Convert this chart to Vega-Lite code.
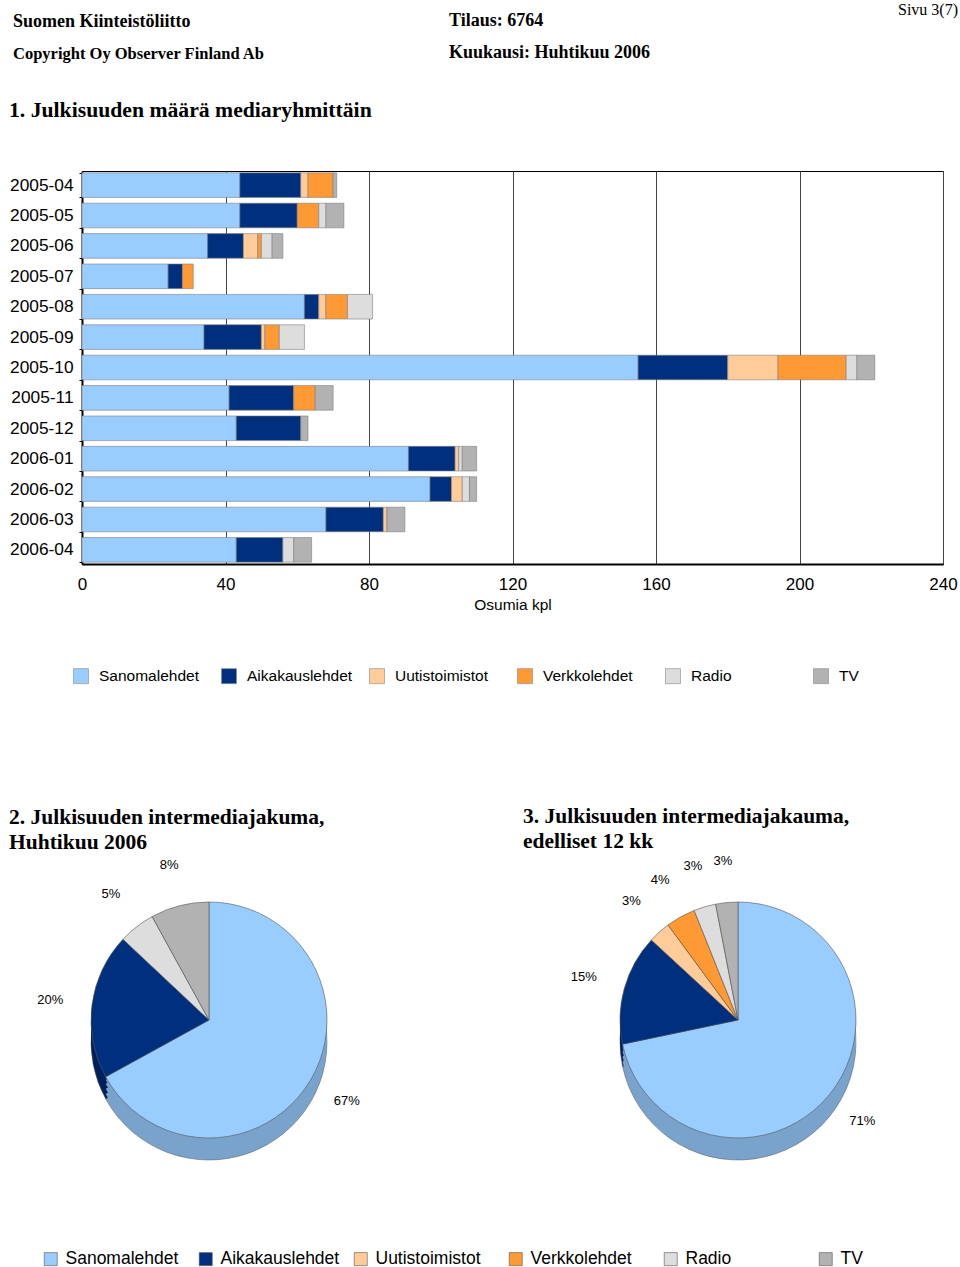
{
  "$schema": "https://vega.github.io/schema/vega-lite/v6.json",
  "background": "white",
  "padding": {"left": 0, "top": 2, "right": 0, "bottom": 0},
  "autosize": {"type": "pad"},
  "config": {
    "font": "Liberation Sans",
    "view": {"stroke": null},
    "title": {"font": "Liberation Serif", "fontWeight": "bold", "color": "black", "anchor": "start", "frame": "group", "subtitleFont": "Liberation Serif", "subtitleFontWeight": "bold", "subtitleColor": "black"},
    "concat": {"spacing": 0}
  },
  "datasets": {
    "media": [
      {"media": "Sanomalehdet", "o": 1},
      {"media": "Aikakauslehdet", "o": 2},
      {"media": "Uutistoimistot", "o": 3},
      {"media": "Verkkolehdet", "o": 4},
      {"media": "Radio", "o": 5},
      {"media": "TV", "o": 6}
    ],
    "bars": [
      {"month": "2005-04", "media": "Sanomalehdet", "n": 44},
      {"month": "2005-04", "media": "Aikakauslehdet", "n": 17},
      {"month": "2005-04", "media": "Uutistoimistot", "n": 2},
      {"month": "2005-04", "media": "Verkkolehdet", "n": 7},
      {"month": "2005-04", "media": "TV", "n": 1},
      {"month": "2005-05", "media": "Sanomalehdet", "n": 44},
      {"month": "2005-05", "media": "Aikakauslehdet", "n": 16},
      {"month": "2005-05", "media": "Verkkolehdet", "n": 6},
      {"month": "2005-05", "media": "Radio", "n": 2},
      {"month": "2005-05", "media": "TV", "n": 5},
      {"month": "2005-06", "media": "Sanomalehdet", "n": 35},
      {"month": "2005-06", "media": "Aikakauslehdet", "n": 10},
      {"month": "2005-06", "media": "Uutistoimistot", "n": 4},
      {"month": "2005-06", "media": "Verkkolehdet", "n": 1},
      {"month": "2005-06", "media": "Radio", "n": 3},
      {"month": "2005-06", "media": "TV", "n": 3},
      {"month": "2005-07", "media": "Sanomalehdet", "n": 24},
      {"month": "2005-07", "media": "Aikakauslehdet", "n": 4},
      {"month": "2005-07", "media": "Verkkolehdet", "n": 3},
      {"month": "2005-08", "media": "Sanomalehdet", "n": 62},
      {"month": "2005-08", "media": "Aikakauslehdet", "n": 4},
      {"month": "2005-08", "media": "Uutistoimistot", "n": 2},
      {"month": "2005-08", "media": "Verkkolehdet", "n": 6},
      {"month": "2005-08", "media": "Radio", "n": 7},
      {"month": "2005-09", "media": "Sanomalehdet", "n": 34},
      {"month": "2005-09", "media": "Aikakauslehdet", "n": 16},
      {"month": "2005-09", "media": "Uutistoimistot", "n": 1},
      {"month": "2005-09", "media": "Verkkolehdet", "n": 4},
      {"month": "2005-09", "media": "Radio", "n": 7},
      {"month": "2005-10", "media": "Sanomalehdet", "n": 155},
      {"month": "2005-10", "media": "Aikakauslehdet", "n": 25},
      {"month": "2005-10", "media": "Uutistoimistot", "n": 14},
      {"month": "2005-10", "media": "Verkkolehdet", "n": 19},
      {"month": "2005-10", "media": "Radio", "n": 3},
      {"month": "2005-10", "media": "TV", "n": 5},
      {"month": "2005-11", "media": "Sanomalehdet", "n": 41},
      {"month": "2005-11", "media": "Aikakauslehdet", "n": 18},
      {"month": "2005-11", "media": "Verkkolehdet", "n": 6},
      {"month": "2005-11", "media": "TV", "n": 5},
      {"month": "2005-12", "media": "Sanomalehdet", "n": 43},
      {"month": "2005-12", "media": "Aikakauslehdet", "n": 18},
      {"month": "2005-12", "media": "TV", "n": 2},
      {"month": "2006-01", "media": "Sanomalehdet", "n": 91},
      {"month": "2006-01", "media": "Aikakauslehdet", "n": 13},
      {"month": "2006-01", "media": "Uutistoimistot", "n": 1},
      {"month": "2006-01", "media": "Radio", "n": 1},
      {"month": "2006-01", "media": "TV", "n": 4},
      {"month": "2006-02", "media": "Sanomalehdet", "n": 97},
      {"month": "2006-02", "media": "Aikakauslehdet", "n": 6},
      {"month": "2006-02", "media": "Uutistoimistot", "n": 3},
      {"month": "2006-02", "media": "Radio", "n": 2},
      {"month": "2006-02", "media": "TV", "n": 2},
      {"month": "2006-03", "media": "Sanomalehdet", "n": 68},
      {"month": "2006-03", "media": "Aikakauslehdet", "n": 16},
      {"month": "2006-03", "media": "Uutistoimistot", "n": 1},
      {"month": "2006-03", "media": "TV", "n": 5},
      {"month": "2006-04", "media": "Sanomalehdet", "n": 43},
      {"month": "2006-04", "media": "Aikakauslehdet", "n": 13},
      {"month": "2006-04", "media": "Radio", "n": 3},
      {"month": "2006-04", "media": "TV", "n": 5}
    ],
    "shares": [
      {"pie": 1, "media": "Sanomalehdet", "share": 0.67},
      {"pie": 1, "media": "Aikakauslehdet", "share": 0.20},
      {"pie": 1, "media": "Radio", "share": 0.05},
      {"pie": 1, "media": "TV", "share": 0.08},
      {"pie": 2, "media": "Sanomalehdet", "share": 0.71},
      {"pie": 2, "media": "Aikakauslehdet", "share": 0.15},
      {"pie": 2, "media": "Uutistoimistot", "share": 0.03},
      {"pie": 2, "media": "Verkkolehdet", "share": 0.04},
      {"pie": 2, "media": "Radio", "share": 0.03},
      {"pie": 2, "media": "TV", "share": 0.03}
    ]
  },
  "spacing": 32,
  "vconcat": [
    {
      "spacing": 0,
      "hconcat": [
        {
          "width": 367, "height": 1,
          "data": {"values": []},
          "mark": "point",
          "title": {"text": "Suomen Kiinteistöliitto", "subtitle": "Copyright Oy Observer Finland Ab", "fontSize": 18, "subtitleFontSize": 16.5, "subtitlePadding": 15, "dx": -69, "offset": 4}
        },
        {
          "width": 430, "height": 1,
          "data": {"values": []},
          "mark": "point",
          "title": {"text": "Tilaus: 6764", "subtitle": "Kuukausi: Huhtikuu 2006", "fontSize": 18, "subtitleFontSize": 18, "subtitlePadding": 14, "dx": 0, "offset": 4}
        },
        {
          "width": 79, "height": 1,
          "data": {"values": []},
          "mark": "point",
          "title": {"text": "Sivu 3(7)", "fontWeight": "normal", "fontSize": 16, "anchor": "end", "dx": 0, "offset": 48}
        }
      ]
    },
    {
      "spacing": 120,
      "resolve": {"scale": {"color": "independent"}, "legend": {"color": "independent"}},
      "vconcat": [
        {
          "width": 861, "height": 393,
          "view": {"stroke": "black", "strokeWidth": 1},
          "title": {"text": "1. Julkisuuden määrä mediaryhmittäin", "fontSize": 21.7, "anchor": "start", "dx": -73, "offset": 40},
          "data": {"name": "bars"},
          "transform": [{"lookup": "media", "from": {"data": {"name": "media"}, "key": "media", "fields": ["o"]}}],
          "mark": {"type": "bar", "stroke": "#7f7f7f", "strokeWidth": 0.6},
          "encoding": {
            "y": {"field": "month", "type": "nominal", "sort": "ascending",
              "scale": {"paddingInner": 0.19, "paddingOuter": 0.06},
              "axis": {"title": null, "labelFontSize": 17.3, "labelColor": "black", "labelPadding": 6, "tickSize": 3, "tickBand": "extent", "tickColor": "black", "domainColor": "black", "domainWidth": 2, "minExtent": 81, "maxExtent": 81}},
            "x": {"field": "n", "type": "quantitative",
              "scale": {"domain": [0, 240], "nice": false},
              "axis": {"values": [0, 40, 80, 120, 160, 200, 240], "title": "Osumia kpl", "titleFontSize": 15.5, "titleFontWeight": "normal", "titleColor": "black", "titlePadding": 5, "labelFontSize": 17, "labelColor": "black", "labelPadding": 12, "ticks": false, "domainColor": "black", "domainWidth": 2, "grid": true, "gridColor": "#444444", "gridWidth": 1, "labelFlush": false}},
            "color": {"field": "media", "type": "nominal",
              "scale": {"domain": ["Sanomalehdet", "Aikakauslehdet", "Uutistoimistot", "Verkkolehdet", "Radio", "TV"], "range": ["#99CCFF", "#00307D", "#FFCC99", "#FF9933", "#DDDDDD", "#B2B2B2"]},
              "legend": {"title": null, "orient": "none", "legendX": -9, "legendY": 497, "direction": "horizontal", "columns": 6, "gridAlign": "all", "columnPadding": 15, "symbolType": "square", "symbolSize": 225, "symbolStrokeColor": "#888888", "symbolStrokeWidth": 0.6, "labelFontSize": 15.5, "labelColor": "black", "labelOffset": 10, "labelLimit": 200}},
            "order": {"field": "o", "type": "quantitative"}
          }
        },
        {
          "spacing": 163,
          "hconcat": [
            {
              "width": 254, "height": 300,
              "title": {"text": ["2. Julkisuuden intermediajakuma,", "Huhtikuu 2006"], "fontSize": 21.5, "lineHeight": 25, "dx": -73, "offset": 6},
              "data": {"name": "shares"},
              "transform": [{"filter": "datum.pie == 1"}, {"lookup": "media", "from": {"data": {"name": "media"}, "key": "media", "fields": ["o"]}}],
              "encoding": {
                "theta": {"field": "share", "type": "quantitative", "stack": true},
                "order": {"field": "o", "type": "quantitative"}
              },
              "layer": [
                {"mark": {"type": "arc", "radius": 118, "yOffset": 22, "stroke": "#555555", "strokeWidth": 0.5},
                 "encoding": {"fill": {"field": "media", "type": "nominal", "scale": {"domain": ["Sanomalehdet", "Aikakauslehdet", "Uutistoimistot", "Verkkolehdet", "Radio", "TV"], "range": ["#7AA3CC", "#00205C", "#CCA37A", "#CC7A29", "#B0B0B0", "#8E8E8E"]}, "legend": null}}},
                {"mark": {"type": "arc", "radius": 118, "yOffset": 17},
                 "encoding": {"fill": {"field": "media", "type": "nominal", "legend": null}}},
                {"mark": {"type": "arc", "radius": 118, "yOffset": 12},
                 "encoding": {"fill": {"field": "media", "type": "nominal", "legend": null}}},
                {"mark": {"type": "arc", "radius": 118, "yOffset": 7},
                 "encoding": {"fill": {"field": "media", "type": "nominal", "legend": null}}},
                {"mark": {"type": "arc", "radius": 118, "yOffset": 3},
                 "encoding": {"fill": {"field": "media", "type": "nominal", "legend": null}}},
                {"mark": {"type": "arc", "radius": 118, "stroke": "#555555", "strokeWidth": 0.6},
                 "encoding": {"color": {"field": "media", "type": "nominal",
                   "scale": {"domain": ["Sanomalehdet", "Aikakauslehdet", "Uutistoimistot", "Verkkolehdet", "Radio", "TV"], "range": ["#99CCFF", "#00307D", "#FFCC99", "#FF9933", "#DDDDDD", "#B2B2B2"]},
                   "legend": {"title": null, "orient": "none", "legendX": -40, "legendY": 380, "direction": "horizontal", "columns": 6, "gridAlign": "all", "columnPadding": 12, "symbolType": "square", "symbolSize": 170, "symbolStrokeColor": "#888888", "symbolStrokeWidth": 0.6, "labelFontSize": 17.5, "labelColor": "black", "labelOffset": 6, "labelLimit": 200}}}},
                {"mark": {"type": "text", "radius": 160, "fontSize": 13, "color": "black"},
                 "encoding": {"detail": {"field": "media", "type": "nominal"}, "text": {"field": "share", "type": "quantitative", "format": ".0%"}}}
              ]
            },
            {
              "width": 254, "height": 300,
              "title": {"text": ["3. Julkisuuden intermediajakauma,", "edelliset 12 kk"], "fontSize": 21.5, "lineHeight": 25, "dx": -88, "offset": 2},
              "data": {"name": "shares"},
              "transform": [{"filter": "datum.pie == 2"}, {"lookup": "media", "from": {"data": {"name": "media"}, "key": "media", "fields": ["o"]}}],
              "encoding": {
                "theta": {"field": "share", "type": "quantitative", "stack": true},
                "order": {"field": "o", "type": "quantitative"}
              },
              "layer": [
                {"mark": {"type": "arc", "radius": 118, "yOffset": 22, "stroke": "#555555", "strokeWidth": 0.5},
                 "encoding": {"fill": {"field": "media", "type": "nominal", "legend": null}}},
                {"mark": {"type": "arc", "radius": 118, "yOffset": 17},
                 "encoding": {"fill": {"field": "media", "type": "nominal", "legend": null}}},
                {"mark": {"type": "arc", "radius": 118, "yOffset": 12},
                 "encoding": {"fill": {"field": "media", "type": "nominal", "legend": null}}},
                {"mark": {"type": "arc", "radius": 118, "yOffset": 7},
                 "encoding": {"fill": {"field": "media", "type": "nominal", "legend": null}}},
                {"mark": {"type": "arc", "radius": 118, "yOffset": 3},
                 "encoding": {"fill": {"field": "media", "type": "nominal", "legend": null}}},
                {"mark": {"type": "arc", "radius": 118, "stroke": "#555555", "strokeWidth": 0.6},
                 "encoding": {"color": {"field": "media", "type": "nominal"}}},
                {"mark": {"type": "text", "radius": 160, "fontSize": 13, "color": "black"},
                 "encoding": {"detail": {"field": "media", "type": "nominal"}, "text": {"field": "share", "type": "quantitative", "format": ".0%"}}}
              ]
            }
          ]
        }
      ]
    }
  ]
}
